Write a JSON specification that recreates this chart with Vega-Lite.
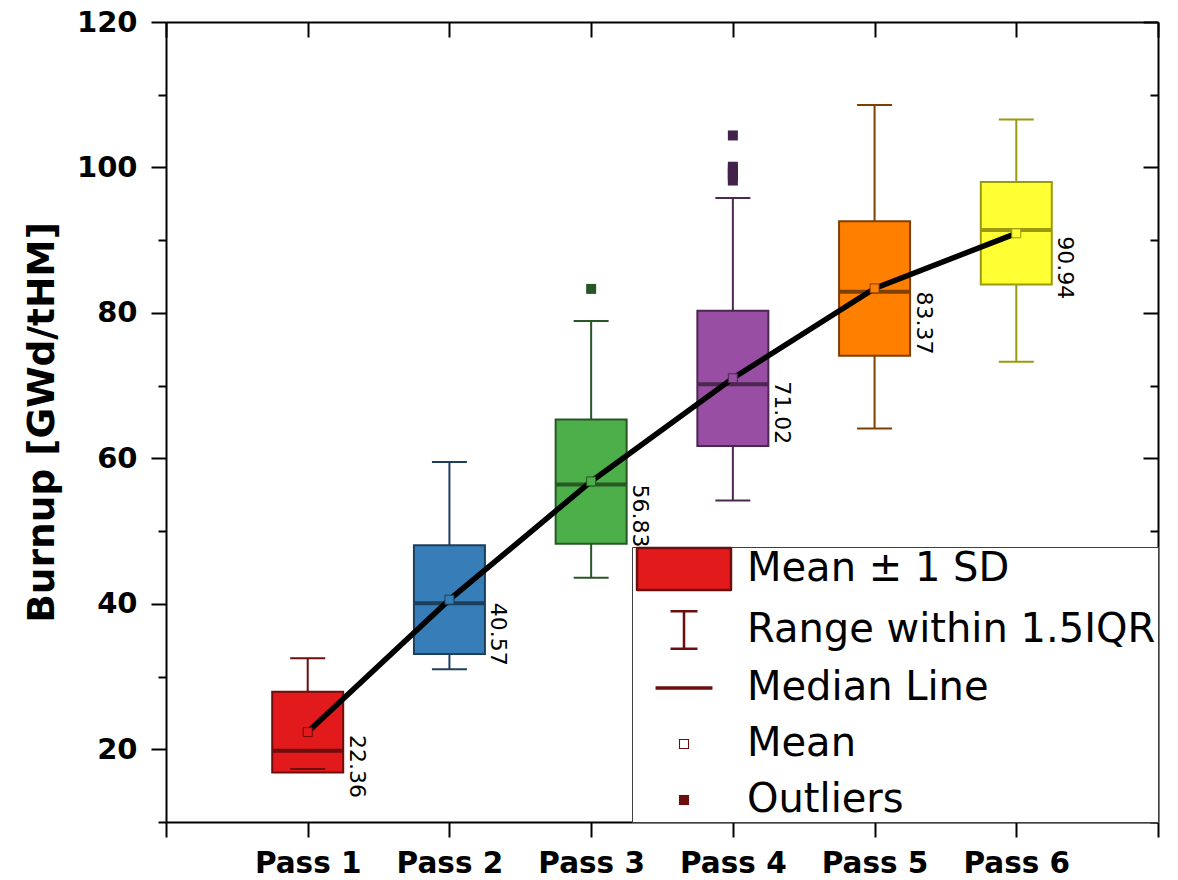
{
  "$schema": "https://vega.github.io/schema/vega-lite/v6.json",
  "width": 992,
  "height": 800,
  "autosize": "none",
  "padding": {"left": 166, "top": 22, "right": 20, "bottom": 58},
  "background": "white",
  "config": {
    "view": {"stroke": null},
    "font": "DejaVu Sans",
    "axis": {"grid": false, "domainColor": "black", "domainWidth": 2, "tickColor": "black", "tickWidth": 2, "labelColor": "black", "titleColor": "black", "labelFont": "DejaVu Sans", "titleFont": "DejaVu Sans"}
  },
  "datasets": {
    "boxes": [
      {"name": "Pass 1", "lo": 17.3, "hi": 32.5, "box_lo": 16.8, "box_hi": 27.9, "median": 19.8, "mean": 22.36},
      {"name": "Pass 2", "lo": 31.0, "hi": 59.5, "box_lo": 33.1, "box_hi": 48.05, "median": 40.07, "mean": 40.57},
      {"name": "Pass 3", "lo": 43.6, "hi": 78.9, "box_lo": 48.25, "box_hi": 65.35, "median": 56.4, "mean": 56.83},
      {"name": "Pass 4", "lo": 54.2, "hi": 95.8, "box_lo": 61.7, "box_hi": 80.3, "median": 70.2, "mean": 71.02},
      {"name": "Pass 5", "lo": 64.1, "hi": 108.6, "box_lo": 74.1, "box_hi": 92.6, "median": 82.9, "mean": 83.37},
      {"name": "Pass 6", "lo": 73.3, "hi": 106.6, "box_lo": 83.9, "box_hi": 98.0, "median": 91.4, "mean": 90.94}
    ],
    "outliers": [
      {"name": "Pass 3", "value": 83.3},
      {"name": "Pass 4", "value": 98.2},
      {"name": "Pass 4", "value": 98.7},
      {"name": "Pass 4", "value": 99.2},
      {"name": "Pass 4", "value": 99.7},
      {"name": "Pass 4", "value": 100.1},
      {"name": "Pass 4", "value": 104.4}
    ],
    "legend": [
      {"item": "Mean ± 1 SD"},
      {"item": "Range within 1.5IQR"},
      {"item": "Median Line"},
      {"item": "Mean"},
      {"item": "Outliers"}
    ]
  },
  "resolve": {
    "scale": {"fill": "independent", "stroke": "independent", "shape": "independent"},
    "axis": {"x": "independent", "y": "independent"}
  },
  "layer": [
    {
      "data": {"name": "boxes"},
      "mark": {"type": "rule", "strokeWidth": 2},
      "encoding": {
        "x": {"field": "name", "type": "nominal", "scale": {"type": "point", "domain": ["L", "Pass 1", "Pass 2", "Pass 3", "Pass 4", "Pass 5", "Pass 6", "R"], "padding": 0},
              "axis": {"orient": "top", "title": null, "labels": false, "tickSize": -15, "domain": true}},
        "y": {"field": "lo", "type": "quantitative", "scale": {"domain": [10, 120], "nice": false, "zero": false},
              "axis": {"orient": "left", "values": [10, 30, 50, 70, 90, 110], "tickSize": 8, "labels": false, "domain": false, "title": null}},
        "y2": {"field": "hi"},
        "stroke": {"field": "name", "type": "nominal", "legend": null,
                   "scale": {"domain": ["Pass 1", "Pass 2", "Pass 3", "Pass 4", "Pass 5", "Pass 6"], "range": ["#6E0D0E", "#1C3F5C", "#265725", "#4C2751", "#7F3F00", "#9A9A10"]}}
      }
    },
    {
      "data": {"name": "boxes"},
      "mark": {"type": "bar", "width": 71, "strokeWidth": 2},
      "encoding": {
        "x": {"field": "name", "type": "nominal", "scale": {"type": "point", "domain": ["L", "Pass 1", "Pass 2", "Pass 3", "Pass 4", "Pass 5", "Pass 6", "R"], "padding": 0},
              "axis": {"orient": "bottom", "title": null, "labelExpr": "datum.value == 'L' || datum.value == 'R' ? '' : datum.value", "labelAngle": 0, "labelFontWeight": "bold", "labelFontSize": 29.5, "labelPadding": 12, "tickSize": 15, "domain": true}},
        "y": {"field": "box_lo", "type": "quantitative", "scale": {"domain": [10, 120], "nice": false, "zero": false},
              "axis": {"orient": "left", "values": [20, 40, 60, 80, 100, 120], "tickSize": 15, "labelFontWeight": "bold", "labelFontSize": 29, "labelPadding": 14, "title": "Burnup [GWd/tHM]", "titleFontSize": 37.5, "titleFontWeight": "bold", "titlePadding": 15, "domain": true}},
        "y2": {"field": "box_hi"},
        "fill": {"field": "name", "type": "nominal", "legend": null,
                 "scale": {"domain": ["Pass 1", "Pass 2", "Pass 3", "Pass 4", "Pass 5", "Pass 6"], "range": ["#E31A1C", "#377EB8", "#4DAF4A", "#984EA3", "#FF7F00", "#FFFF33"]}},
        "stroke": {"field": "name", "type": "nominal", "legend": null,
                   "scale": {"domain": ["Pass 1", "Pass 2", "Pass 3", "Pass 4", "Pass 5", "Pass 6"], "range": ["#6E0D0E", "#1C3F5C", "#265725", "#4C2751", "#7F3F00", "#9A9A10"]}}
      }
    },
    {
      "data": {"name": "boxes"},
      "mark": {"type": "tick", "size": 35, "thickness": 2, "opacity": 1},
      "encoding": {
        "x": {"field": "name", "type": "nominal", "scale": {"type": "point", "domain": ["L", "Pass 1", "Pass 2", "Pass 3", "Pass 4", "Pass 5", "Pass 6", "R"], "padding": 0}, "axis": null},
        "y": {"field": "hi", "type": "quantitative", "scale": {"domain": [10, 120], "nice": false, "zero": false},
              "axis": {"orient": "right", "values": [20, 40, 60, 80, 100, 120], "tickSize": -15, "labels": false, "domain": true, "title": null}},
        "fill": {"field": "name", "type": "nominal", "legend": null,
                 "scale": {"domain": ["Pass 1", "Pass 2", "Pass 3", "Pass 4", "Pass 5", "Pass 6"], "range": ["#6E0D0E", "#1C3F5C", "#265725", "#4C2751", "#7F3F00", "#9A9A10"]}}
      }
    },
    {
      "data": {"name": "boxes"},
      "mark": {"type": "tick", "size": 35, "thickness": 2, "opacity": 1},
      "encoding": {
        "x": {"field": "name", "type": "nominal", "scale": {"type": "point", "domain": ["L", "Pass 1", "Pass 2", "Pass 3", "Pass 4", "Pass 5", "Pass 6", "R"], "padding": 0}, "axis": null},
        "y": {"field": "lo", "type": "quantitative", "scale": {"domain": [10, 120], "nice": false, "zero": false},
              "axis": {"orient": "right", "values": [10, 30, 50, 70, 90, 110], "tickSize": -8, "labels": false, "domain": false, "title": null}},
        "fill": {"field": "name", "type": "nominal", "legend": null,
                 "scale": {"domain": ["Pass 1", "Pass 2", "Pass 3", "Pass 4", "Pass 5", "Pass 6"], "range": ["#6E0D0E", "#1C3F5C", "#265725", "#4C2751", "#7F3F00", "#9A9A10"]}}
      }
    },
    {
      "data": {"name": "boxes"},
      "mark": {"type": "tick", "size": 71, "thickness": 4, "opacity": 1},
      "encoding": {
        "x": {"field": "name", "type": "nominal", "scale": {"type": "point", "domain": ["L", "Pass 1", "Pass 2", "Pass 3", "Pass 4", "Pass 5", "Pass 6", "R"], "padding": 0}, "axis": null},
        "y": {"field": "median", "type": "quantitative", "scale": {"domain": [10, 120], "nice": false, "zero": false}, "axis": null},
        "fill": {"field": "name", "type": "nominal", "legend": null,
                 "scale": {"domain": ["Pass 1", "Pass 2", "Pass 3", "Pass 4", "Pass 5", "Pass 6"], "range": ["#6E0D0E", "#1C3F5C", "#265725", "#4C2751", "#7F3F00", "#9A9A10"]}}
      }
    },
    {
      "data": {"name": "boxes"},
      "mark": {"type": "line", "color": "black", "strokeWidth": 5.5},
      "encoding": {
        "x": {"field": "name", "type": "nominal", "scale": {"type": "point", "domain": ["L", "Pass 1", "Pass 2", "Pass 3", "Pass 4", "Pass 5", "Pass 6", "R"], "padding": 0}, "axis": null},
        "y": {"field": "mean", "type": "quantitative", "scale": {"domain": [10, 120], "nice": false, "zero": false}, "axis": null}
      }
    },
    {
      "data": {"name": "boxes"},
      "mark": {"type": "point", "shape": "square", "filled": true, "size": 81, "strokeWidth": 1, "opacity": 1},
      "encoding": {
        "x": {"field": "name", "type": "nominal", "scale": {"type": "point", "domain": ["L", "Pass 1", "Pass 2", "Pass 3", "Pass 4", "Pass 5", "Pass 6", "R"], "padding": 0}, "axis": null},
        "y": {"field": "mean", "type": "quantitative", "scale": {"domain": [10, 120], "nice": false, "zero": false}, "axis": null},
        "fill": {"field": "name", "type": "nominal", "legend": null,
                 "scale": {"domain": ["Pass 1", "Pass 2", "Pass 3", "Pass 4", "Pass 5", "Pass 6"], "range": ["#E31A1C", "#377EB8", "#4DAF4A", "#984EA3", "#FF7F00", "#FFFF33"]}},
        "stroke": {"field": "name", "type": "nominal", "legend": null,
                   "scale": {"domain": ["Pass 1", "Pass 2", "Pass 3", "Pass 4", "Pass 5", "Pass 6"], "range": ["#6E0D0E", "#1C3F5C", "#265725", "#4C2751", "#7F3F00", "#9A9A10"]}}
      }
    },
    {
      "data": {"name": "outliers"},
      "mark": {"type": "point", "shape": "square", "filled": true, "size": 100, "opacity": 1, "strokeWidth": 0},
      "encoding": {
        "x": {"field": "name", "type": "nominal", "scale": {"type": "point", "domain": ["L", "Pass 1", "Pass 2", "Pass 3", "Pass 4", "Pass 5", "Pass 6", "R"], "padding": 0}, "axis": null},
        "y": {"field": "value", "type": "quantitative", "scale": {"domain": [10, 120], "nice": false, "zero": false}, "axis": null},
        "fill": {"field": "name", "type": "nominal", "legend": null,
                 "scale": {"domain": ["Pass 1", "Pass 2", "Pass 3", "Pass 4", "Pass 5", "Pass 6"], "range": ["#6E0D0E", "#1C3F5C", "#265725", "#42214A", "#7F3F00", "#9A9A10"]}}
      }
    },
    {
      "data": {"name": "boxes"},
      "mark": {"type": "text", "angle": 90, "align": "left", "baseline": "middle", "dx": 3, "dy": -49, "fontSize": 22, "font": "DejaVu Sans", "color": "black"},
      "encoding": {
        "x": {"field": "name", "type": "nominal", "scale": {"type": "point", "domain": ["L", "Pass 1", "Pass 2", "Pass 3", "Pass 4", "Pass 5", "Pass 6", "R"], "padding": 0}, "axis": null},
        "y": {"field": "mean", "type": "quantitative", "scale": {"domain": [10, 120], "nice": false, "zero": false}, "axis": null},
        "text": {"field": "mean", "type": "quantitative", "format": ".2f"}
      }
    },
    {
      "data": {"name": "legend"},
      "mark": {"type": "point", "filled": true, "opacity": 1, "size": 1296, "strokeWidth": 2.5},
      "encoding": {
        "x": {"datum": "Pass 5", "type": "nominal", "scale": {"type": "point", "domain": ["L", "Pass 1", "Pass 2", "Pass 3", "Pass 4", "Pass 5", "Pass 6", "R"], "padding": 0}, "axis": null},
        "y": {"datum": 18, "type": "quantitative", "scale": {"domain": [10, 120], "nice": false, "zero": false}, "axis": null},
        "shape": {"field": "item", "type": "nominal",
                  "scale": {"domain": ["Mean ± 1 SD", "Range within 1.5IQR", "Median Line", "Mean", "Outliers"],
                            "range": ["M-2.61,-1.17H2.61V1.17H-2.61Z",
                                      "M-0.75,-1.11H0.75V-0.97H-0.75Z M-0.07,-1.11H0.07V1.11H-0.07Z M-0.75,0.97H0.75V1.11H-0.75Z",
                                      "M-1.58,-0.1H1.58V0.1H-1.58Z",
                                      "M-0.28,-0.28H0.28V0.28H-0.28Z M-0.22,-0.22V0.22H0.22V-0.22Z",
                                      "M-0.28,-0.28H0.28V0.28H-0.28Z"]},
                  "legend": {"title": null, "orient": "bottom-right", "offset": 0, "padding": 2, "symbolSize": 1296, "symbolStrokeWidth": 2.5, "symbolOffset": 30, "labelOffset": 43, "labelFont": "DejaVu Sans", "labelFontSize": 40, "labelColor": "black", "labelLimit": 1000, "rowPadding": 16, "fillColor": "white", "strokeColor": "#404040", "symbolOpacity": 1,
                             "encode": {"symbols": {"update": {"strokeJoin": {"value": "round"}}}}}},
        "fill": {"field": "item", "type": "nominal",
                 "scale": {"domain": ["Mean ± 1 SD", "Range within 1.5IQR", "Median Line", "Mean", "Outliers"],
                           "range": ["#E31A1C", "#6B0E0E", "#6B0E0E", "#6B0E0E", "#6B0E0E"]},
                 "legend": {"title": null, "orient": "bottom-right", "offset": 0, "padding": 2, "symbolSize": 1296, "symbolStrokeWidth": 2.5, "symbolOffset": 30, "labelOffset": 43, "labelFont": "DejaVu Sans", "labelFontSize": 40, "labelColor": "black", "labelLimit": 1000, "rowPadding": 16, "fillColor": "white", "strokeColor": "#404040", "symbolOpacity": 1,
                            "encode": {"symbols": {"update": {"strokeJoin": {"value": "round"}}}}}},
        "stroke": {"field": "item", "type": "nominal",
                   "scale": {"domain": ["Mean ± 1 SD", "Range within 1.5IQR", "Median Line", "Mean", "Outliers"],
                             "range": ["#6B0E0E", "transparent", "transparent", "transparent", "transparent"]},
                   "legend": {"title": null, "orient": "bottom-right", "offset": 0, "padding": 2, "symbolSize": 1296, "symbolStrokeWidth": 2.5, "symbolOffset": 30, "labelOffset": 43, "labelFont": "DejaVu Sans", "labelFontSize": 40, "labelColor": "black", "labelLimit": 1000, "rowPadding": 16, "fillColor": "white", "strokeColor": "#404040", "symbolOpacity": 1,
                              "encode": {"symbols": {"update": {"strokeJoin": {"value": "round"}}}}}}
      }
    }
  ]
}
